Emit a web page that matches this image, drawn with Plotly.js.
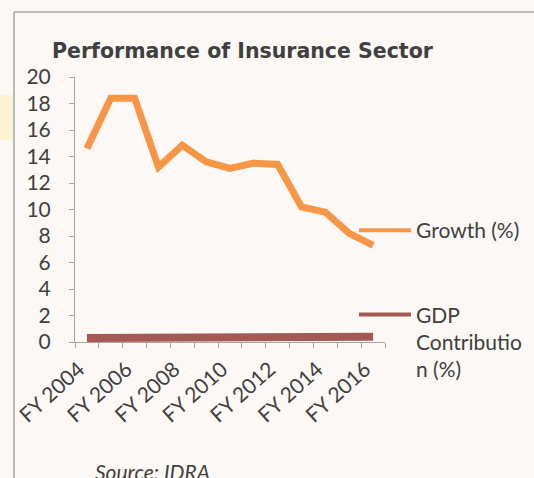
<!DOCTYPE html>
<html>
<head>
<meta charset="utf-8">
<script src="https://cdn.plot.ly/plotly-3.0.1.min.js"></script>
<style>html,body{margin:0;padding:0;background:#fcf8f5;}</style>
</head>
<body>
<div id="chart" style="width:534px;height:478px;"></div>
<script>
const categories = ["FY 2004","FY 2005","FY 2006","FY 2007","FY 2008","FY 2009","FY 2010","FY 2011","FY 2012","FY 2013","FY 2014","FY 2015","FY 2016"];
const growth = [14.6, 18.4, 18.4, 13.2, 14.85, 13.6, 13.1, 13.5, 13.4, 10.2, 9.8, 8.2, 7.3];
const gdpContribution = [0.3, 0.3, 0.3, 0.3, 0.35, 0.35, 0.35, 0.35, 0.35, 0.4, 0.4, 0.4, 0.4];
const tickLabels = ["FY 2004","FY 2006","FY 2008","FY 2010","FY 2012","FY 2014","FY 2016"];
const yTicks = [0,2,4,6,8,10,12,14,16,18,20];
const seriesNames = ["Growth (%)", "GDP<br>Contributio<br>n (%)"];

const textColor = "#404040";
const axisColor = "#a6a6a6";
const bg = "#fcf8f5";
const orange = "#f79646", brown = "#a45a52";
const baseFont = {family: "Lato, 'Noto Sans', sans-serif", size: 21, color: textColor};

const traces = [
  {x: categories, y: growth, type: "scatter", mode: "lines", name: seriesNames[0],
   showlegend: false, line: {color: orange, width: 7}, hoverinfo: "skip"},
  {x: categories, y: gdpContribution, type: "scatter", mode: "lines", name: seriesNames[1],
   showlegend: false, line: {color: brown, width: 8}, hoverinfo: "skip"},
  // legend entries (thinner sample lines, as in the reference legend)
  {x: categories, y: categories.map(() => null), type: "scatter", mode: "lines", name: seriesNames[0],
   legendgroup: "g1", line: {color: orange, width: 4}, hoverinfo: "skip"},
  {x: categories, y: categories.map(() => null), type: "scatter", mode: "lines", name: seriesNames[1],
   legendgroup: "g2", line: {color: brown, width: 4}, hoverinfo: "skip"},
  {x: categories, y: categories.map(() => null), xaxis: "x2", type: "scatter", mode: "lines",
   showlegend: false, hoverinfo: "skip"}
];

const L = 75, R = 385, T = 77, B = 342;
const px = v => (v - L) / (R - L);
const py = v => (B - v) / (B - T);

const layout = {
  width: 534, height: 478,
  margin: {l: L, r: 534 - R, t: T, b: 478 - B, autoexpand: false},
  paper_bgcolor: bg, plot_bgcolor: bg,
  font: baseFont,
  title: {text: "<b>Performance of Insurance Sector</b>",
    font: {family: "'DejaVu Sans', Verdana, sans-serif", size: 20.5, color: textColor},
    x: 52/534, xanchor: "left", xref: "container",
    y: 1 - 51/478, yanchor: "middle", yref: "container"},
  xaxis: {type: "category", range: [-0.5, 12.5], showgrid: false, zeroline: false,
    showline: true, linecolor: axisColor, linewidth: 1, automargin: false,
    ticks: "outside", tickson: "boundaries", ticklen: 5, tickcolor: axisColor,
    showticklabels: false, fixedrange: true},
  xaxis2: {type: "category", overlaying: "x", anchor: "y", side: "bottom", automargin: false,
    categoryorder: "array", categoryarray: categories, range: [-0.5, 12.5],
    tickmode: "array", tickvals: tickLabels, ticktext: tickLabels,
    ticks: "", showgrid: false, zeroline: false, showline: false,
    tickangle: -42, ticklabelstandoff: 10, ticklabelshift: -8, tickfont: baseFont},
  yaxis: {range: [0, 20], tickmode: "array", tickvals: yTicks, automargin: false,
    showgrid: false, zeroline: false, showline: true, linecolor: axisColor, linewidth: 1,
    ticks: "outside", ticklen: 5, tickcolor: axisColor, ticklabelstandoff: 14,
    tickfont: baseFont, fixedrange: true},
  showlegend: true,
  legend: {x: px(354), xanchor: "left", y: py(210), yanchor: "top",
    bgcolor: "rgba(0,0,0,0)", font: baseFont, itemwidth: 52,
    tracegroupgap: 54, valign: "top", traceorder: "grouped"},
  shapes: [
    {type: "rect", xref: "paper", yref: "paper", x0: px(0), x1: px(13), y0: py(95), y1: py(140),
     line: {width: 0}, fillcolor: "rgba(255,236,150,0.35)", layer: "below"},
    {type: "line", xref: "paper", yref: "paper", x0: px(14), x1: px(534), y0: py(12), y1: py(12),
     line: {color: "#a9a9a9", width: 1.5}},
    {type: "line", xref: "paper", yref: "paper", x0: px(14), x1: px(14), y0: py(12), y1: py(478),
     line: {color: "#a9a9a9", width: 1.5}}
  ],
  annotations: [
    {text: "<i>Source: IDRA</i>", xref: "paper", yref: "paper", x: px(93), y: py(457),
     xanchor: "left", yanchor: "top", showarrow: false,
     font: {family: "Lato, 'Noto Sans', sans-serif", size: 21, color: textColor}}
  ]
};

Plotly.newPlot("chart", traces, layout, {staticPlot: true, displayModeBar: false});
</script>
</body>
</html>
